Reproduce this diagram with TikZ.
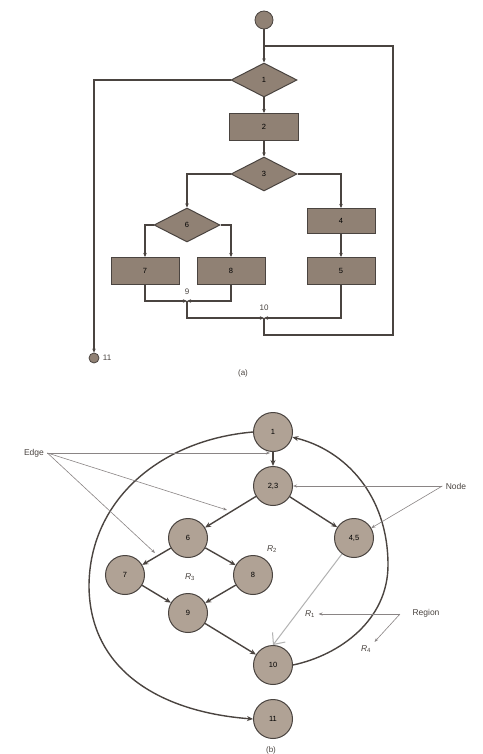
\documentclass[tikz,border=0pt]{standalone}
\usepackage{fontspec}
\setmainfont{Liberation Sans}
\usetikzlibrary{shapes.geometric,arrows.meta}

\definecolor{boxfill}{HTML}{908174}
\definecolor{dotfill}{HTML}{B0A295}
\definecolor{inkline}{HTML}{4A4440}
\definecolor{notegray}{HTML}{8A8585}

\tikzset{
  flowbox/.style={draw=inkline,fill=boxfill,line width=1pt,minimum width=68pt,minimum height=27pt,inner sep=0pt,font=\fontsize{7.5}{8}\selectfont},
  choice/.style={diamond,draw=inkline,fill=boxfill,line width=1pt,minimum width=66pt,minimum height=34pt,inner sep=0pt,font=\fontsize{7.5}{8}\selectfont},
  terminal/.style={circle,draw=inkline,fill=boxfill,line width=0.8pt,inner sep=0pt},
  flownode/.style={circle,draw=inkline,fill=dotfill,line width=1pt,minimum size=39pt,inner sep=0pt,font=\fontsize{7.5}{8}\selectfont},
  flowline/.style={draw=inkline,line width=1.1pt,-{Stealth[length=4pt,width=3.5pt]}},
  plainline/.style={draw=inkline,line width=1.1pt},
  graphedge/.style={draw=inkline,line width=1.4pt,-{Stealth[length=6pt,width=5pt]}},
  noteline/.style={draw=notegray,line width=0.6pt,-{Stealth[length=4pt,width=3pt]}},
  notetext/.style={font=\fontsize{8.5}{9}\selectfont,text=inkline},
  smalltext/.style={font=\fontsize{8}{9}\selectfont,text=inkline},
}

\begin{document}
\begin{tikzpicture}[x=1pt,y=-1pt]
  \useasboundingbox[fill=white] (0,0) rectangle (482,754);

  % (a) flow chart
  \node[terminal,minimum size=18pt] (start) at (264,20) {};
  \node[choice] (d1) at (264,80) {1};
  \node[flowbox,minimum width=69pt] (b2) at (264,127) {2};
  \node[choice] (d3) at (264,174) {3};
  \node[choice] (d6) at (187,225) {6};
  \node[flowbox,minimum height=25pt] (b4) at (341,221) {4};
  \node[flowbox] (b7) at (145,271) {7};
  \node[flowbox] (b8) at (231,271) {8};
  \node[flowbox] (b5) at (341,271) {5};
  \node[terminal,minimum size=10pt] (end) at (94,358) {};
  \node[smalltext,right=0pt] (endlab) at (end.east) {11};
  \node[smalltext] (lab9) at (187,292) {9};
  \node[smalltext] (lab10) at (264,308) {10};
  \node[smalltext] (capa) at (243,373) {(a)};
  \coordinate (top) at (264,46);
  \coordinate (j9) at (187,301);
  \coordinate (j10) at (264,318);
  \coordinate (lowmid) at (264,335);
  \coordinate (lowright) at (393,335);
  \coordinate (upright) at (393,46);
  \coordinate (leftturn) at (94,80);

  \draw[flowline] (start) -- (d1);
  \draw[flowline] (d1.west) -- (leftturn) -- (end);
  \draw[flowline] (d1) -- (b2);
  \draw[flowline] (b2) -- (d3);
  \draw[flowline] (d3.west) -| (d6);
  \draw[flowline] (d3.east) -| (b4);
  \draw[flowline] (d6.west) -| (b7);
  \draw[flowline] (d6.east) -| (b8);
  \draw[flowline] (b4) -- (b5);
  \draw[flowline] (b7) |- (j9);
  \draw[flowline] (b8) |- (j9);
  \draw[flowline] (j9) |- (j10);
  \draw[flowline] (b5) |- (j10);
  \draw[plainline] (j10) -- (lowmid) -- (lowright) -- (upright) -- (top);

  % (b) flow graph
  \node[flownode] (n1) at (273,432) {1};
  \node[flownode] (n23) at (273,486) {2,3};
  \node[flownode] (n6) at (188,538) {6};
  \node[flownode] (n45) at (354,538) {4,5};
  \node[flownode] (n7) at (125,575) {7};
  \node[flownode] (n8) at (253,575) {8};
  \node[flownode] (n9) at (188,613) {9};
  \node[flownode] (n10) at (273,665) {10};
  \node[flownode] (n11) at (273,719) {11};

  \draw[graphedge] (n1) -- (n23);
  \draw[graphedge] (n23) -- (n6);
  \draw[graphedge] (n23) -- (n45);
  \draw[graphedge] (n6) -- (n7);
  \draw[graphedge] (n6) -- (n8);
  \draw[graphedge] (n7) -- (n9);
  \draw[graphedge] (n8) -- (n9);
  \draw[graphedge] (n9) -- (n10);
  \draw[draw=black!30,line width=1pt,-{Straight Barb[length=9pt,width=16pt]}] (n45) -- (n10.north);
  \draw[graphedge] (n10.east) .. controls (340,655) and (388,620) .. (388,565)
    .. controls (388,495) and (345,450) .. (n1.-15);
  \draw[graphedge] (n1.west) .. controls (160,440) and (90,500) .. (89,585)
    .. controls (89,670) and (160,712) .. (n11.west);

  % labels
  \node[notetext] (edgelab) at (34,453) {Edge};
  \node[notetext] (nodelab) at (456,486) {Node};
  \node[notetext] (reglab) at (426,613) {Region};
  \node[notetext] (r1) at (310,614) {\textit{R}\textsubscript{1}};
  \node[notetext] (r2) at (272,549) {\textit{R}\textsubscript{2}};
  \node[notetext] (r3) at (190,577) {\textit{R}\textsubscript{3}};
  \node[notetext] (r4) at (366,649) {\textit{R}\textsubscript{4}};
  \node[smalltext] (capb) at (271,750) {(b)};
  \coordinate (e1) at (270,453);
  \coordinate (e2) at (227,510);
  \coordinate (e3) at (155,553);
  \coordinate (regtail) at (400,614);

  \draw[noteline] (edgelab.east) -- (e1);
  \draw[noteline] (edgelab.east) -- (e2);
  \draw[noteline] (edgelab.east) -- (e3);
  \draw[noteline] (nodelab.west) -- (n23.east);
  \draw[noteline] (nodelab.west) -- (n45.30);
  \draw[noteline] (regtail) -- (r1.east);
  \draw[noteline] (regtail) -- (r4.north east);
\end{tikzpicture}
\end{document}
